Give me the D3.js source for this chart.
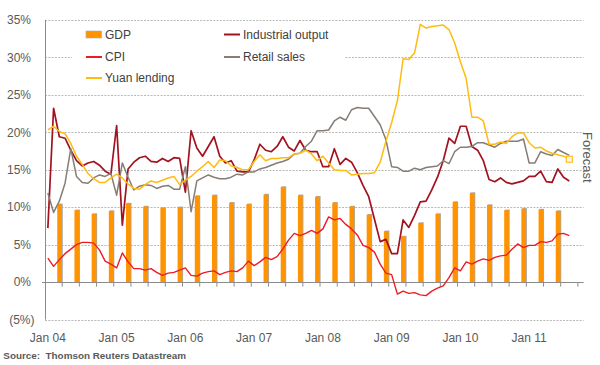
<!DOCTYPE html>
<html>
<head>
<meta charset="utf-8">
<script src="https://cdn.jsdelivr.net/npm/d3@7"></script>
<style>
  body { margin: 0; background: #fff; }
  svg { font-family: "Liberation Sans", Arial, sans-serif; }
</style>
</head>
<body>
<div class="container"></div>
<script>
// months Jan 04 .. Oct 11 on the category axis
var months = d3.timeMonths(new Date(2004, 0, 1), new Date(2011, 10, 1));
var yearLabels = ['Jan 04', 'Jan 05', 'Jan 06', 'Jan 07', 'Jan 08', 'Jan 09', 'Jan 10', 'Jan 11'];
var yTicks = [-5, 0, 5, 10, 15, 20, 25, 30, 35];

// quarterly GDP, plotted at the last month of each quarter
var gdpQuarters = ['04Q1','04Q2','04Q3','04Q4','05Q1','05Q2','05Q3','05Q4','06Q1','06Q2','06Q3','06Q4',
  '07Q1','07Q2','07Q3','07Q4','08Q1','08Q2','08Q3','08Q4','09Q1','09Q2','09Q3','09Q4',
  '10Q1','10Q2','10Q3','10Q4','11Q1','11Q2'];
var gdp = [10.4, 9.6, 9.1, 9.5, 10.5, 10.1, 9.9, 10.0, 11.5, 11.6, 10.6, 10.4,
  11.7, 12.7, 11.6, 11.4, 10.6, 10.1, 9.0, 6.8, 6.1, 7.9, 9.1, 10.7,
  11.9, 10.3, 9.6, 9.8, 9.7, 9.5];

// monthly series Jan 04 .. Aug 11
var industrial = [7.2, 23.2, 19.4, 19.2, 17.6, 16.2, 15.5, 15.9, 16.1, 15.6, 14.8, 14.4,
  20.9, 7.6, 15.1, 16.0, 16.6, 16.8, 16.1, 16.0, 16.5, 16.1, 16.6, 16.5,
  12.0, 20.2, 17.9, 16.8, 18.1, 19.4, 16.8, 15.9, 16.2, 14.8, 14.7, 14.7,
  16.3, 18.4, 17.6, 17.4, 18.1, 19.4, 18.0, 17.5, 18.9, 17.6, 17.4, 17.4,
  15.4, 15.4, 17.8, 15.7, 16.5, 16.0, 14.6, 12.9, 11.4, 8.4, 5.4, 5.7,
  3.8, 3.8, 8.3, 7.3, 8.9, 10.7, 10.8, 12.3, 14.0, 16.2, 19.2, 18.5,
  20.8, 20.8, 18.1, 17.6, 16.2, 13.7, 13.4, 13.9, 13.3, 13.1, 13.3, 13.5,
  14.1, 14.1, 14.8, 13.4, 13.3, 15.1, 14.0, 13.5];
var cpi = [3.2, 2.1, 3.0, 3.8, 4.4, 5.0, 5.3, 5.3, 5.2, 4.3, 2.8, 2.4,
  1.9, 3.9, 2.7, 1.8, 1.8, 1.6, 1.8, 1.3, 0.9, 1.2, 1.3, 1.6,
  1.9, 0.9, 0.8, 1.2, 1.4, 1.5, 1.0, 1.3, 1.5, 1.4, 1.9, 2.8,
  2.2, 2.7, 3.3, 3.0, 3.4, 4.4, 5.6, 6.5, 6.2, 6.5, 6.9, 6.5,
  7.1, 8.7, 8.3, 8.5, 7.7, 7.1, 6.3, 4.9, 4.6, 4.0, 2.4, 1.2,
  1.0, -1.6, -1.2, -1.5, -1.4, -1.7, -1.8, -1.2, -0.8, -0.5, 0.6, 1.9,
  1.5, 2.7, 2.4, 2.8, 3.1, 2.9, 3.3, 3.5, 3.6, 4.4, 5.1, 4.6,
  4.9, 4.9, 5.4, 5.3, 5.5, 6.4, 6.5, 6.2];
var retail = [11.9, 9.3, 10.8, 13.2, 17.8, 14.1, 13.3, 13.2, 13.9, 14.3, 14.1, 14.5,
  11.6, 15.9, 14.0, 12.3, 12.8, 13.0, 12.9, 12.5, 12.8, 12.9, 12.4, 12.4,
  15.4, 9.4, 13.5, 13.9, 14.3, 14.0, 13.8, 13.8, 14.0, 14.4, 14.3, 14.7,
  14.7, 15.1, 15.3, 15.6, 15.9, 16.1, 16.4, 17.1, 17.2, 18.1, 18.8, 20.2,
  20.2, 20.3, 21.5, 22.0, 21.6, 23.0, 23.3, 23.2, 23.2, 22.1, 21.0, 19.0,
  15.4, 15.3, 14.8, 14.8, 15.2, 15.0, 15.3, 15.4, 15.5, 16.2, 15.8, 17.4,
  18.0, 18.0, 18.1, 18.6, 18.6, 18.3, 18.0, 18.5, 18.8, 18.8, 18.8, 19.1,
  15.9, 15.9, 17.4, 17.1, 16.9, 17.7, 17.3, 16.9];
var yuan = [20.3, 20.8, 20.1, 19.8, 18.5, 16.8, 15.7, 14.5, 13.8, 13.3, 13.3, 13.9,
  14.4, 13.9, 13.1, 12.5, 12.4, 13.0, 13.5, 13.3, 13.6, 13.9, 14.1, 13.0,
  13.6, 14.1, 14.8, 15.4, 16.1, 15.3, 16.3, 16.2, 15.5, 15.3, 15.0, 15.0,
  16.1, 17.0, 16.2, 16.5, 16.5, 16.6, 16.6, 17.1, 17.2, 17.6, 17.1, 16.2,
  16.8, 15.9, 15.0, 14.9, 14.9, 14.3, 14.4, 14.5, 14.5, 14.6, 16.0, 18.8,
  21.3, 24.2, 29.8, 29.7, 30.6, 34.4, 33.9, 34.1, 34.2, 34.3, 33.7, 31.9,
  29.4, 27.2, 22.0, 22.0, 21.5, 18.4, 18.4, 18.7, 18.5, 19.4, 19.9, 19.9,
  18.6, 17.9, 18.0, 17.5, 17.2, 17.0, 16.8, 16.4];

var W = 600, H = 365;
var svg = d3.select('.container')
    .append('svg')
    .attr('width', W)
    .attr('height', H);

var x = d3.scaleBand()
    .domain(d3.range(months.length))
    .range([45, 583.6])
    .padding(0);
var y = d3.scaleLinear()
    .domain([-5, 35])
    .range([319.6, 19.8]);
var cx = i => x(i) + x.bandwidth() / 2;

// gridlines
svg.append('g')
    .selectAll('line')
    .data(yTicks.filter(d => d != 0))
    .enter()
    .append('line')
    .attr('x1', 45)
    .attr('x2', 583.6)
    .attr('y1', d => Math.round(y(d)) + 0.5)
    .attr('y2', d => Math.round(y(d)) + 0.5)
    .style('stroke', '#a6a6a6')
    .style('stroke-width', 0.8)
    .style('stroke-dasharray', '2,1.3');

// y labels, positive ones leave room for ")"
svg.append('g')
    .selectAll('text')
    .data(yTicks)
    .enter()
    .append('text')
    .attr('x', d => d < 0 ? 34.5 : 31)
    .attr('y', d => y(d) + 4.3)
    .attr('text-anchor', 'end')
    .style('font-size', '12px')
    .style('fill', '#595959')
    .text(d => d < 0 ? '(' + (-d) + '%)' : d + '%');

// GDP bars with the grey edge
var gdpIdx = gdpQuarters.map(q => (+q.slice(0, 2) - 4) * 12 + (+q.slice(3)) * 3 - 1);
var bars = svg.append('g');
bars.selectAll('.shadow')
    .data(gdp)
    .enter()
    .append('rect')
    .attr('class', 'shadow')
    .attr('x', (d, i) => x(gdpIdx[i]) + 1.6)
    .attr('y', d => y(d) - 0.6)
    .attr('width', x.bandwidth() * 0.82)
    .attr('height', d => y(0) - y(d) + 0.6)
    .style('fill', '#a8a8a8');
bars.selectAll('.bar')
    .data(gdp)
    .enter()
    .append('rect')
    .attr('class', 'bar')
    .attr('x', (d, i) => x(gdpIdx[i]) + 0.8)
    .attr('y', d => y(d))
    .attr('width', x.bandwidth() * 0.82)
    .attr('height', d => y(0) - y(d))
    .style('fill', '#ff9400');

// axes lines
svg.append('line')
    .attr('x1', 45.5).attr('x2', 45.5)
    .attr('y1', y(35)).attr('y2', y(-5))
    .style('stroke', '#8c8c8c').style('stroke-width', 1);
svg.append('line')
    .attr('x1', 42).attr('x2', 583.6)
    .attr('y1', Math.round(y(0)) + 0.5).attr('y2', Math.round(y(0)) + 0.5)
    .style('stroke', '#8c8c8c').style('stroke-width', 1);
svg.append('g')
    .selectAll('line')
    .data(d3.range(3, months.length, 3))
    .enter()
    .append('line')
    .attr('x1', d => x(d))
    .attr('x2', d => x(d))
    .attr('y1', y(0))
    .attr('y2', y(0) + 4.5)
    .style('stroke', '#8c8c8c')
    .style('stroke-width', 1);

// x labels
svg.append('g')
    .selectAll('text')
    .data(yearLabels)
    .enter()
    .append('text')
    .attr('x', (d, i) => cx(i * 12))
    .attr('y', 341.5)
    .attr('text-anchor', 'middle')
    .style('font-size', '12px')
    .style('fill', '#595959')
    .text(d => d);

// lines
var line = d3.line()
    .x((d, i) => cx(i))
    .y(d => y(d));

var series = [
  { name: 'Industrial output', values: industrial, color: '#a3121f', width: 1.7 },
  { name: 'CPI', values: cpi, color: '#ec1c24', width: 1.4 },
  { name: 'Retail sales', values: retail, color: '#857d76', width: 1.5 },
  { name: 'Yuan lending', values: yuan, color: '#ffbb11', width: 1.5 }
];

svg.append('g')
    .selectAll('path')
    .data(series)
    .enter()
    .append('path')
    .attr('d', d => line(d.values))
    .style('fill', 'none')
    .style('stroke', d => d.color)
    .style('stroke-width', d => d.width)
    .style('stroke-linejoin', 'round');

// forecast marker on the last yuan point
var last = yuan.length - 1;
svg.append('rect')
    .attr('x', cx(last) - 3)
    .attr('y', y(yuan[last]) - 3)
    .attr('width', 6)
    .attr('height', 6)
    .style('fill', '#fff8e0')
    .style('stroke', '#ffbb11')
    .style('stroke-width', 1.1);

svg.append('text')
    .attr('transform', 'translate(583,132) rotate(90)')
    .style('font-size', '13px')
    .style('fill', '#595959')
    .text('Forecast');

// legend
var legend = svg.append('g');
legend.append('rect')
    .attr('x', 72).attr('y', 23)
    .attr('width', 273).attr('height', 67)
    .style('fill', '#fff');

var legendItems = [
  { name: 'GDP', color: '#ff9400', bar: true, x: 86, y: 34.5 },
  { name: 'Industrial output', color: '#a3121f', x: 224, y: 34.5 },
  { name: 'CPI', color: '#ec1c24', x: 86, y: 57 },
  { name: 'Retail sales', color: '#857d76', x: 224, y: 57 },
  { name: 'Yuan lending', color: '#ffbb11', x: 86, y: 78 }
];

legendItems.forEach(function(d) {
    if (d.bar) {
        legend.append('rect')
            .attr('x', d.x).attr('y', d.y - 3.5)
            .attr('width', 15.5).attr('height', 7)
            .style('fill', d.color)
            .style('stroke', '#a8a8a8')
            .style('stroke-width', 0.6);
    } else {
        legend.append('line')
            .attr('x1', d.x).attr('x2', d.x + 16)
            .attr('y1', d.y).attr('y2', d.y)
            .style('stroke', d.color)
            .style('stroke-width', 2);
    }
    legend.append('text')
        .attr('x', d.x + 19)
        .attr('y', d.y + 4.3)
        .style('font-size', '12px')
        .style('fill', '#404040')
        .text(d.name);
});

svg.append('text')
    .attr('x', 3.3)
    .attr('y', 359)
    .style('font-size', '9.9px')
    .style('font-weight', 'bold')
    .style('fill', '#595959')
    .style('white-space', 'pre')
    .text('Source:  Thomson Reuters Datastream');
</script>
</body>
</html>
